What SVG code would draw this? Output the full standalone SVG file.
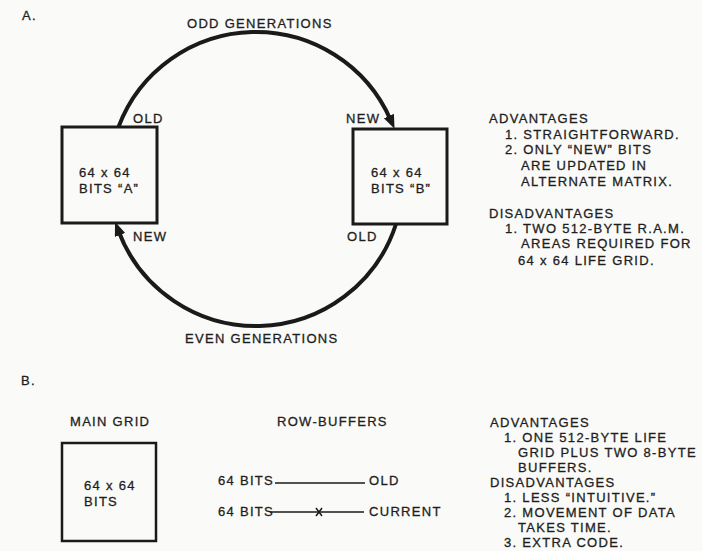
<svg xmlns="http://www.w3.org/2000/svg" width="702" height="551" viewBox="0 0 702 551">
<style>
text{font-family:"Liberation Sans",Arial,Helvetica,sans-serif;font-size:13px;letter-spacing:1.3px;fill:#1e1e1e;stroke:#1e1e1e;stroke-width:0.3px}
.box{fill:none;stroke:#1a1a1a;stroke-width:3}
.arc{fill:none;stroke:#1a1a1a;stroke-width:4}
.buf{fill:none;stroke:#1a1a1a;stroke-width:1.5}
</style>
<defs>
<marker id="ah" markerUnits="userSpaceOnUse" markerWidth="15" markerHeight="12" refX="4" refY="5.5" orient="auto">
<path d="M0,0 L14,5.5 L0,11 z" fill="#1a1a1a"/>
</marker>
</defs>
<rect width="702" height="551" fill="#fafaf8"/>
<text x="22" y="20">A.</text>
<text x="187" y="28">ODD GENERATIONS</text>
<text x="185" y="343">EVEN GENERATIONS</text>
<g id="connectors">
<path class="arc" d="M 118.5 127 A 147 147 0 0 1 390.5 119.7" marker-end="url(#ah)"/>
<path class="arc" d="M 396 224 A 147 147 0 0 1 118.6 231.2" marker-end="url(#ah)"/>
<text x="133" y="123">OLD</text>
<text x="346" y="123">NEW</text>
<text x="133" y="241">NEW</text>
<text x="347" y="241">OLD</text>
</g>
<g id="gridA">
<rect class="box" x="62" y="127" width="95" height="96"/>
<text x="79" y="177">64 x 64</text>
<text x="79" y="193">BITS “A”</text>
</g>
<g id="gridB">
<rect class="box" x="353" y="129" width="94" height="95"/>
<text x="371" y="177">64 x 64</text>
<text x="371" y="193">BITS “B”</text>
</g>
<g id="notesA">
<text x="489" y="123">ADVANTAGES</text>
<text x="505" y="139">1. STRAIGHTFORWARD.</text>
<text x="505" y="154">2. ONLY “NEW” BITS</text>
<text x="521" y="170">ARE UPDATED IN</text>
<text x="521" y="186">ALTERNATE MATRIX.</text>
<text x="489" y="218">DISADVANTAGES</text>
<text x="505" y="233">1. TWO 512-BYTE R.A.M.</text>
<text x="521" y="248">AREAS REQUIRED FOR</text>
<text x="518" y="265">64 x 64 LIFE GRID.</text>
</g>
<text x="21" y="385">B.</text>
<text x="70" y="426">MAIN GRID</text>
<text x="277" y="426">ROW-BUFFERS</text>
<g id="mainGrid">
<rect class="box" x="62" y="443" width="94" height="98" style="stroke-width:2.5"/>
<text x="84" y="490">64 x 64</text>
<text x="84" y="506">BITS</text>
</g>
<g id="rowBuffers">
<text x="218" y="485">64 BITS</text>
<line class="buf" x1="275" y1="483" x2="365" y2="483"/>
<text x="369" y="485">OLD</text>
<text x="218" y="516">64 BITS</text>
<line class="buf" x1="270" y1="512" x2="364" y2="512"/>
<path class="buf" d="M316 508 L322 516 M322 508 L316 516"/>
<text x="369" y="516">CURRENT</text>
</g>
<g id="notesB">
<text x="490" y="427">ADVANTAGES</text>
<text x="504" y="442">1. ONE 512-BYTE LIFE</text>
<text x="518" y="457">GRID PLUS TWO 8-BYTE</text>
<text x="518" y="472">BUFFERS.</text>
<text x="490" y="487">DISADVANTAGES</text>
<text x="504" y="502">1. LESS “INTUITIVE.”</text>
<text x="504" y="517">2. MOVEMENT OF DATA</text>
<text x="518" y="532">TAKES TIME.</text>
<text x="504" y="547">3. EXTRA CODE.</text>
</g>
</svg>
